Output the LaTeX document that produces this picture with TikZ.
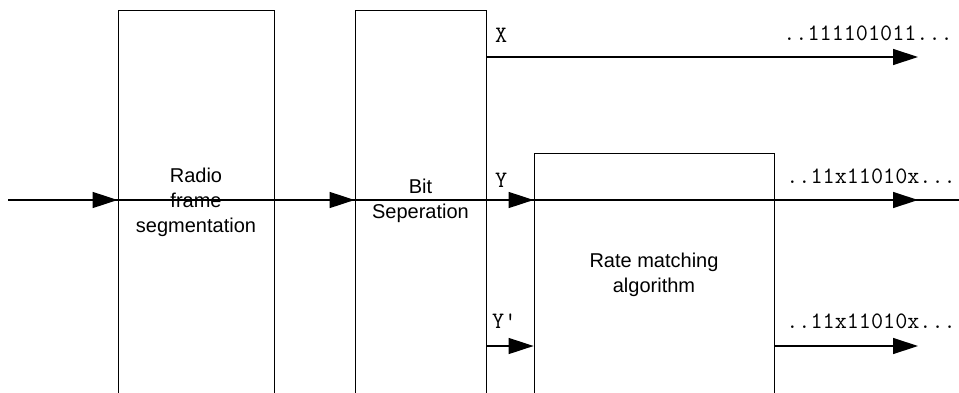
\documentclass[tikz,border=0pt]{standalone}
\usepackage{fontspec}
\setmainfont{Liberation Sans}
\usetikzlibrary{arrows.meta, positioning}

\begin{document}
\begin{tikzpicture}[x=1pt, y=-1pt,
  blk/.style={draw, line width=0.8pt, inner sep=0pt},
  txt/.style={font=\fontsize{20}{25}\selectfont, align=center, inner sep=0pt},
  bits/.style={font=\ttfamily\fontsize{23.5}{25}\selectfont, inner sep=0pt},
  wire/.style={line width=1.3pt},
  arr/.style={-{Triangle[length=25pt, width=16pt]}, line width=1.3pt}
]
  \useasboundingbox (0,0) rectangle (959,392);
  \node[blk, minimum width=156pt, minimum height=390pt] (seg) at (196,205) {};
  \node[blk, minimum width=131pt, minimum height=390pt] (bit) at (420.5,205) {};
  \node[blk, minimum width=240pt, minimum height=247pt] (rate) at (654,276.5) {};
  \node[txt] (segtxt) at (196,202) {Radio\\frame\\segmentation};
  \node[txt] (bittxt) at (420.5,201) {Bit\\Seperation};
  \node[txt] (ratetxt) at (654,275) {Rate matching\\algorithm};

  \coordinate (in) at (8,200);
  \coordinate (out) at (965,200);
  \coordinate (yout) at (918,200);
  \coordinate (xout) at (918,57);
  \coordinate (ypout) at (918,346);

  \draw[wire] (in) -- (out);
  \draw[arr] (in) -- (in -| seg.west);
  \draw[arr] (seg.east |- in) -- (in -| bit.west);
  \draw[arr] (bit.east |- in) -- (in -| rate.west);
  \draw[arr] (rate.east |- in) -- (yout);
  \draw[arr] (bit.east |- xout) -- (xout);
  \draw[arr] (bit.east |- ypout) -- (ypout -| rate.west);
  \draw[arr] (rate.east |- ypout) -- (ypout);

  \node[bits, anchor=west] (xlab) at (495,35) {X};
  \node[bits, anchor=east] (xbits) at (953,33) {..111101011...};
  \node[bits, anchor=west] (ylab) at (495,180) {Y};
  \node[bits, anchor=east] (ybits) at (956,176) {..11x11010x...};
  \node[bits, anchor=west] (yplab) at (492,321) {Y'};
  \node[bits, anchor=east] (ypbits) at (956,321) {..11x11010x...};
\end{tikzpicture}
\end{document}
